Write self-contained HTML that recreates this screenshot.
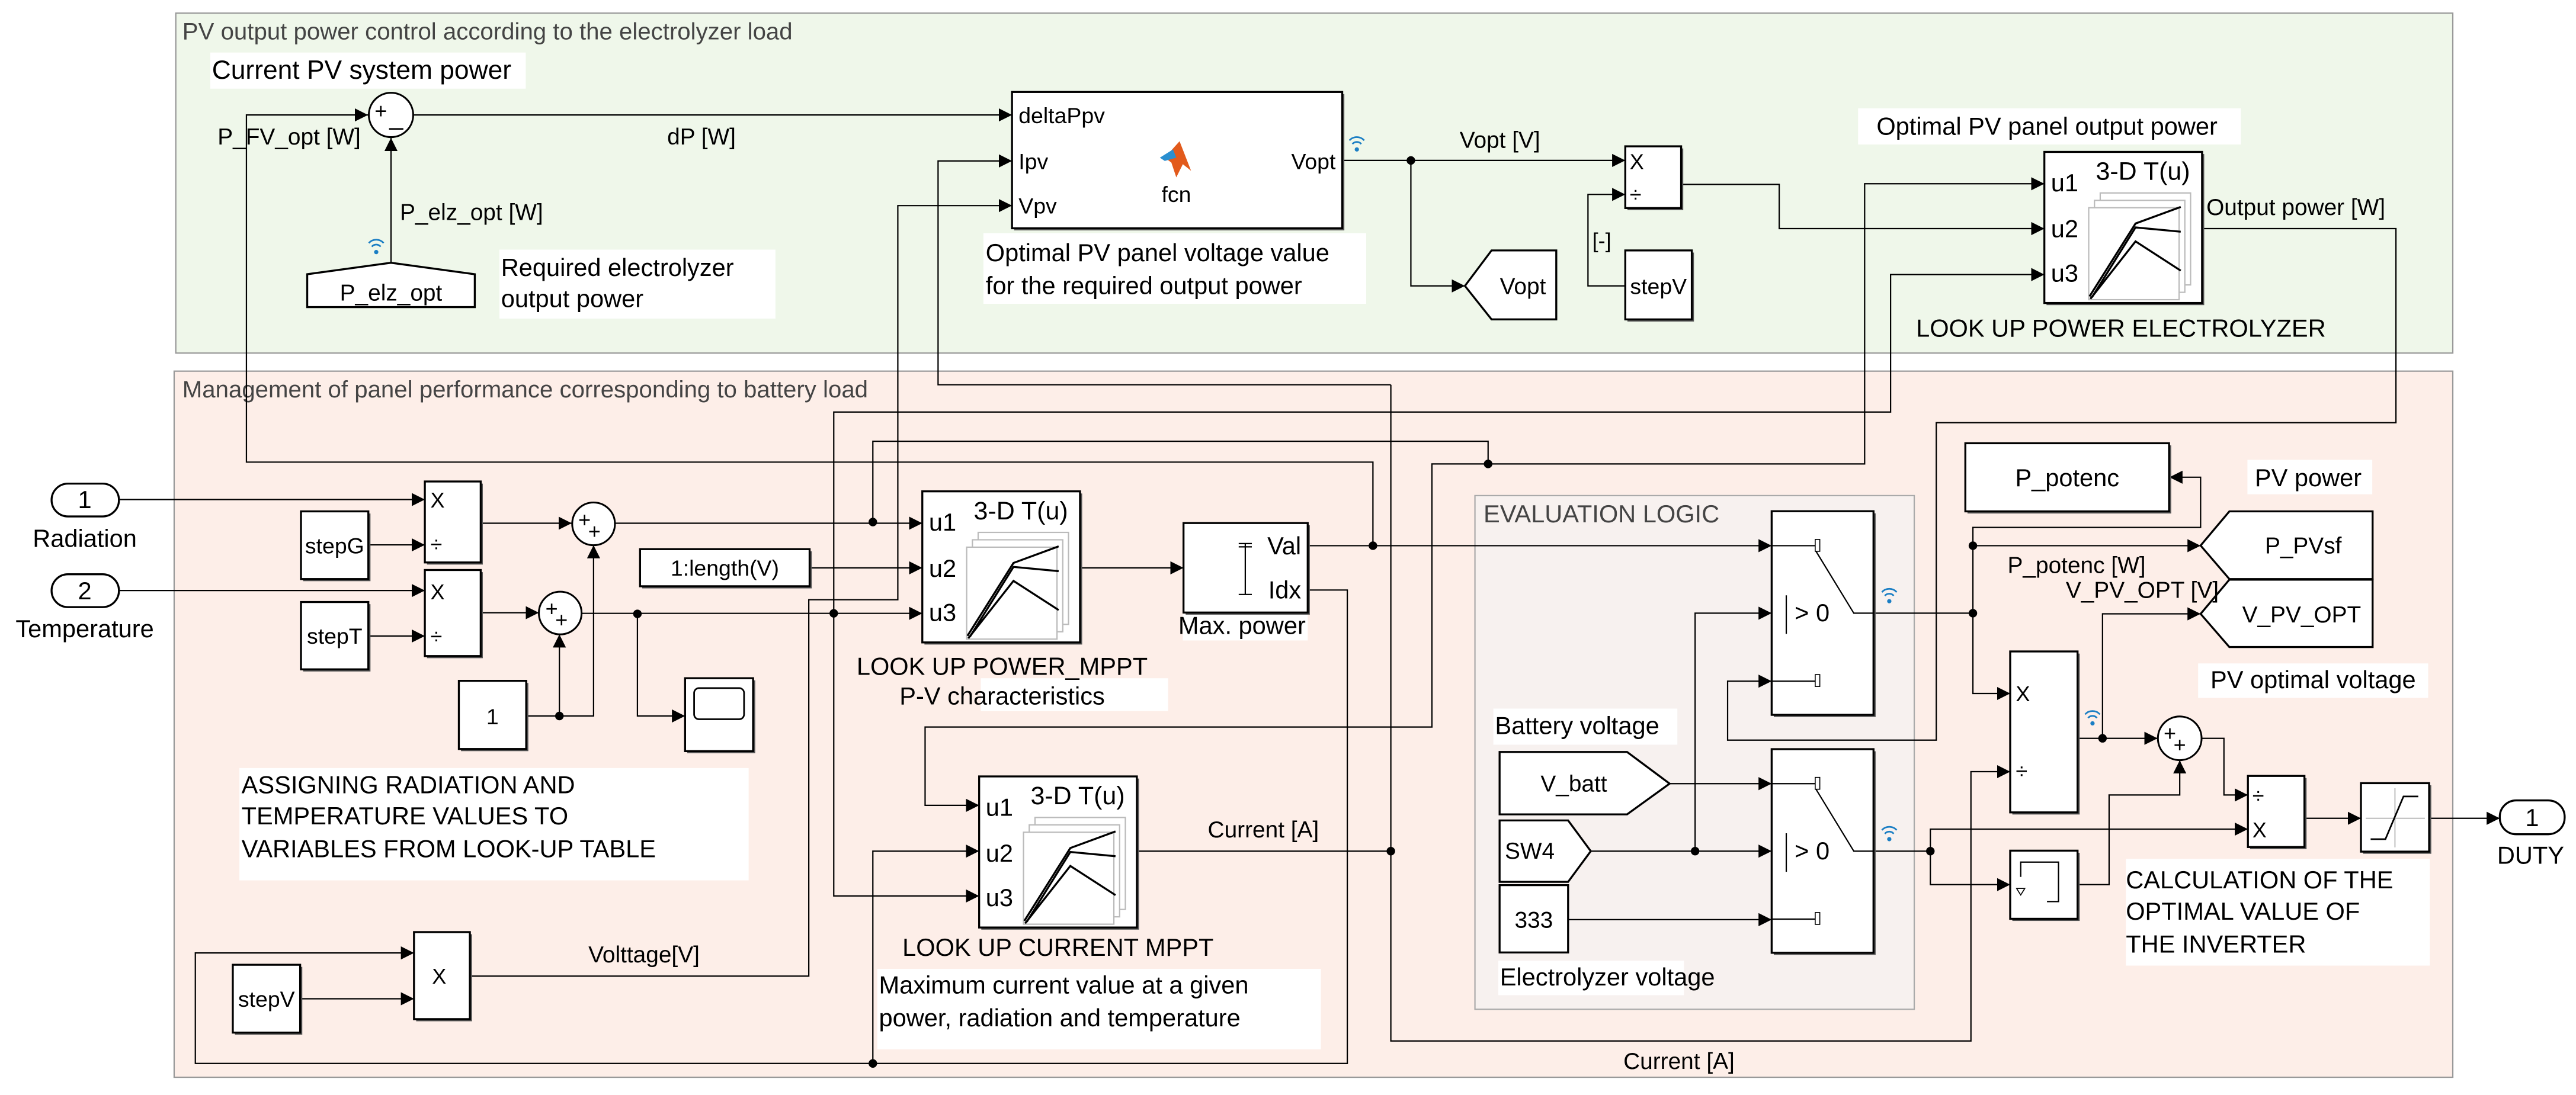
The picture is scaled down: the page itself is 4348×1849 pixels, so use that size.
<!DOCTYPE html>
<html><head><meta charset="utf-8"><style>
html,body{margin:0;padding:0;background:#fff;}
svg{display:block;}
text{font-family:"Liberation Sans",sans-serif;fill:#000;}
</style></head><body>
<svg xmlns="http://www.w3.org/2000/svg" width="4348" height="1849" viewBox="0 0 1568 666.8">
<defs>
<marker id="ar" markerUnits="userSpaceOnUse" markerWidth="9" markerHeight="9" refX="8" refY="4" orient="auto"><path d="M0,0 L8,4 L0,8 Z" fill="#000"/></marker>
<g id="lut">
<rect x="1.3" y="1.3" width="96" height="92" fill="#555"/>
<rect x="0" y="0" width="96" height="92" fill="#fff" stroke="#000" stroke-width="1.2"/>
<text x="60" y="17" font-size="15.5" text-anchor="middle">3-D T(u)</text>
<text x="4" y="24" font-size="15">u1</text>
<text x="4" y="52" font-size="15">u2</text>
<text x="4" y="79" font-size="15">u3</text>
<rect x="34" y="25" width="55" height="56" fill="#fff" stroke="#bbb" stroke-width="0.8"/>
<rect x="30.5" y="29.5" width="55" height="56" fill="#fff" stroke="#bbb" stroke-width="0.8"/>
<rect x="27" y="34" width="55" height="56" fill="#fff" stroke="#bbb" stroke-width="0.8"/>
<polyline points="27.5,88 55.5,43.6 83,33.5" fill="none" stroke="#000" stroke-width="1.2"/>
<polyline points="29,88.5 55.5,46 83,48.6" fill="none" stroke="#000" stroke-width="1.2"/>
<polyline points="28,89.5 55.5,54.5 83,72.3" fill="none" stroke="#000" stroke-width="1.2"/>
</g>
<g id="wl" fill="none" stroke="#1a7ec4" stroke-width="1">
<path d="M-4.5,-3 A6,6 0 0 1 4.5,-3"/><path d="M-2.7,-0.8 A3.5,3.5 0 0 1 2.7,-0.8"/><circle cx="0" cy="2.5" r="1.3" fill="#1a7ec4" stroke="none"/>
</g>
<g id="sw">
<rect x="1.3" y="1.3" width="62" height="124" fill="#555"/>
<rect x="0" y="0" width="62" height="124" fill="#fff" stroke="#000" stroke-width="1.2"/>
<path d="M0,21 H27 M0,103.5 H27" stroke="#000" stroke-width="0.8" fill="none"/>
<rect x="26.5" y="17.2" width="2.8" height="7.2" fill="#fff" stroke="#000" stroke-width="0.6"/>
<rect x="26.5" y="99.5" width="2.8" height="7.2" fill="#fff" stroke="#000" stroke-width="0.6"/>
<path d="M27,24.4 L50,62.1 H62" stroke="#000" stroke-width="0.8" fill="none"/>
<path d="M8.9,51.2 V74.7" stroke="#000" stroke-width="0.8"/>
<text x="14" y="67" font-size="15">&gt; 0</text>
</g>
</defs>

<!-- groups -->
<rect x="107" y="8" width="1386" height="207" fill="#eff7ea" stroke="#999" stroke-width="0.8"/>
<text x="111" y="24" font-size="14.5" style="fill:#444">PV output power control according to the electrolyzer load</text>
<rect x="106" y="226" width="1387" height="430" fill="#fdeee8" stroke="#999" stroke-width="0.8"/>
<text x="111" y="242" font-size="14.5" style="fill:#444">Management of panel performance corresponding to battery load</text>
<rect x="897.8" y="301.8" width="267.4" height="312.8" fill="#f7f1ef" stroke="#aaa" stroke-width="0.8"/>
<text x="903" y="318" font-size="15" style="fill:#444">EVALUATION LOGIC</text>

<!-- white label backgrounds -->
<g fill="#fff">
<rect x="128" y="32" width="192" height="22"/>
<rect x="304" y="152" width="168" height="42"/>
<rect x="598.6" y="142" width="233" height="43"/>
<rect x="1131" y="66" width="233" height="22"/>
<rect x="145.7" y="467.7" width="310" height="68.4"/>
<rect x="534" y="590" width="270" height="49"/>
<rect x="909" y="431.5" width="112" height="22"/>
<rect x="912" y="585" width="113" height="21"/>
<rect x="1294" y="523" width="185" height="65"/>
<rect x="1368" y="280" width="76" height="21"/>
<rect x="1338" y="404" width="140" height="21"/>
<rect x="597" y="413" width="114" height="20"/>
<rect x="720" y="374" width="76" height="16"/>
</g>

<!-- wires -->
<g fill="none" stroke="#000" stroke-width="0.8">
<path d="M835.7,332.3 V281.4 H150 V70 H224" marker-end="url(#ar)"/>
<path d="M238,160 V84" marker-end="url(#ar)"/>
<path d="M252,70 H616" marker-end="url(#ar)"/>
<path d="M692.5,518.3 H846.6"/>
<path d="M846.6,234.3 V633.9 H1199.7 V469.9 H1223.6" marker-end="url(#ar)"/>
<path d="M846.6,234.3 H571 V98 H616" marker-end="url(#ar)"/>
<path d="M285.9,594.4 H492.3 V365.2 H546.5 V125.2 H616" marker-end="url(#ar)"/>
<path d="M817,97.7 H989.3" marker-end="url(#ar)"/>
<path d="M858.8,97.7 V174.1 H891.7" marker-end="url(#ar)"/>
<path d="M989.3,174.1 H966.6 V118.4 H989.3" marker-end="url(#ar)"/>
<path d="M1023.2,112.3 H1083 V139.2 H1244.4" marker-end="url(#ar)"/>
<path d="M905.8,282.5 H1135 V111.9 H1244.4" marker-end="url(#ar)"/>
<path d="M531.3,317.9 V268.7 H905.8 V282.5"/>
<path d="M905.8,282.5 H871.6 V442.7 H563.1 V490.4 H596" marker-end="url(#ar)"/>
<path d="M507.5,373.5 V250.9 H1150.8 V167.2 H1244.4" marker-end="url(#ar)"/>
<path d="M507.5,373.5 V545.6 H596" marker-end="url(#ar)"/>
<path d="M1340.5,139.2 H1458.4 V257.4 H1178.6 V450.7 H1051.6 V414.8 H1078.4" marker-end="url(#ar)"/>
<path d="M72.4,304.2 H258.6" marker-end="url(#ar)"/>
<path d="M224.2,331.8 H258.6" marker-end="url(#ar)"/>
<path d="M292.5,318.6 H348" marker-end="url(#ar)"/>
<path d="M374.3,318.6 H561.4" marker-end="url(#ar)"/>
<path d="M72.4,359.6 H258.6" marker-end="url(#ar)"/>
<path d="M224.2,387.3 H258.6" marker-end="url(#ar)"/>
<path d="M292.5,373.1 H328" marker-end="url(#ar)"/>
<path d="M354,373.5 H561.4" marker-end="url(#ar)"/>
<path d="M388,373.8 V436 H417" marker-end="url(#ar)"/>
<path d="M320.3,436 H361.3 V332" marker-end="url(#ar)"/>
<path d="M340.5,436 V386.3" marker-end="url(#ar)"/>
<path d="M492.8,345.8 H561.4" marker-end="url(#ar)"/>
<path d="M658,345.8 H720.4" marker-end="url(#ar)"/>
<path d="M796,332.3 H1078.4" marker-end="url(#ar)"/>
<path d="M796,359.3 H820.1 V647.6 H118.9 V580.3 H252" marker-end="url(#ar)"/>
<path d="M182.7,608.2 H252" marker-end="url(#ar)"/>
<path d="M531.3,647.6 V518.3 H596" marker-end="url(#ar)"/>
<path d="M1016.3,477.2 H1078.4" marker-end="url(#ar)"/>
<path d="M968.3,518.3 H1078.4" marker-end="url(#ar)"/>
<path d="M1031.8,518.3 V373.4 H1078.4" marker-end="url(#ar)"/>
<path d="M954.5,560 H1078.4" marker-end="url(#ar)"/>
<path d="M1140.5,373.4 H1200.9"/>
<path d="M1200.9,332.3 V422.3 H1223.6" marker-end="url(#ar)"/>
<path d="M1200.9,332.3 H1339.5" marker-end="url(#ar)"/>
<path d="M1200.9,332.3 V321.2 H1339.5 V290.6 H1320.5" marker-end="url(#ar)"/>
<path d="M1279.8,449.6 V373.8 H1339.5" marker-end="url(#ar)"/>
<path d="M1264.6,449.6 H1313.3" marker-end="url(#ar)"/>
<path d="M1340.3,449.6 H1353.7 V484.1 H1368.3" marker-end="url(#ar)"/>
<path d="M1140.5,518.3 H1175"/>
<path d="M1175,518.3 V504.9 H1368.3" marker-end="url(#ar)"/>
<path d="M1175,518.3 V538.7 H1223.6" marker-end="url(#ar)"/>
<path d="M1264.6,538.7 H1283.8 V484.1 H1326.8 V463" marker-end="url(#ar)"/>
<path d="M1402.7,498.3 H1437.1" marker-end="url(#ar)"/>
<path d="M1478.6,498.3 H1521.6" marker-end="url(#ar)"/>
</g>
<g fill="#000">
<circle cx="835.7" cy="332.3" r="2.6"/><circle cx="905.8" cy="282.5" r="2.6"/><circle cx="531.3" cy="317.9" r="2.6"/>
<circle cx="507.5" cy="373.5" r="2.6"/><circle cx="846.6" cy="518.3" r="2.6"/><circle cx="531.3" cy="647.6" r="2.6"/>
<circle cx="858.8" cy="97.7" r="2.6"/><circle cx="340.5" cy="436" r="2.6"/><circle cx="388" cy="373.8" r="2.6"/>
<circle cx="1031.8" cy="518.3" r="2.6"/><circle cx="1200.9" cy="373.4" r="2.6"/><circle cx="1200.9" cy="332.3" r="2.6"/>
<circle cx="1175" cy="518.3" r="2.6"/><circle cx="1279.8" cy="449.6" r="2.6"/>
</g>

<!-- blocks top -->
<circle cx="238" cy="70" r="13.5" fill="#fff" stroke="#000" stroke-width="1.1"/>
<text x="228" y="72" font-size="13">+</text><text x="237" y="76" font-size="15">_</text>
<path d="M187,167 L238,160 L289,167 V187 H187 Z" fill="#fff" stroke="#000" stroke-width="1.2"/>
<text x="238" y="183" font-size="14" text-anchor="middle">P_elz_opt</text>
<rect x="617.3" y="57.3" width="201" height="83" fill="#555"/>
<rect x="616" y="56" width="201" height="83" fill="#fff" stroke="#000" stroke-width="1.2"/>
<text x="620" y="75" font-size="13.5">deltaPpv</text>
<text x="620" y="103" font-size="13.5">Ipv</text>
<text x="620" y="130" font-size="13.5">Vpv</text>
<text x="813" y="103" font-size="13.5" text-anchor="end">Vopt</text>
<text x="716" y="123" font-size="13.5" text-anchor="middle">fcn</text>
<path d="M709,96 L718,86 L725,104 L720,100 L716,108 L713,99 Z" fill="#e25a1c"/>
<path d="M706,96 L714,91 L716,96 L709,98 Z" fill="#2a8fd0"/>
<rect x="990.6" y="90.4" width="34" height="37.6" fill="#555"/>
<rect x="989.3" y="89.1" width="34" height="37.6" fill="#fff" stroke="#000" stroke-width="1.2"/>
<text x="992" y="103" font-size="13">X</text><text x="992" y="123" font-size="13">÷</text>
<path d="M891.7,174.1 L907.9,152.5 H947.3 V194.5 H907.9 Z" fill="#fff" stroke="#000" stroke-width="1.2"/>
<text x="927" y="179" font-size="14" text-anchor="middle">Vopt</text>
<rect x="990.6" y="153.8" width="40.5" height="42" fill="#555"/>
<rect x="989.3" y="152.5" width="40.5" height="42" fill="#fff" stroke="#000" stroke-width="1.2"/>
<text x="1009.5" y="179" font-size="13.5" text-anchor="middle">stepV</text>
<text x="975" y="151" font-size="13" text-anchor="middle">[-]</text>
<use href="#lut" x="1244.4" y="92.5"/>

<!-- blocks left -->
<rect x="31.4" y="294.5" width="41" height="20" rx="10" fill="#fff" stroke="#000" stroke-width="1.2"/>
<text x="51.6" y="309.5" font-size="15" text-anchor="middle">1</text>
<rect x="31.4" y="349.7" width="41" height="20" rx="10" fill="#fff" stroke="#000" stroke-width="1.2"/>
<text x="51.6" y="365" font-size="15" text-anchor="middle">2</text>
<text x="51.6" y="333" font-size="15" text-anchor="middle">Radiation</text>
<text x="51.6" y="388" font-size="15" text-anchor="middle">Temperature</text>
<rect x="259.9" y="294.5" width="34" height="49.3" fill="#555"/>
<rect x="258.6" y="293.2" width="34" height="49.3" fill="#fff" stroke="#000" stroke-width="1.2"/>
<text x="262" y="309" font-size="13">X</text><text x="262" y="336" font-size="13">÷</text>
<rect x="184.5" y="312.7" width="41" height="41.2" fill="#555"/>
<rect x="183.2" y="311.4" width="41" height="41.2" fill="#fff" stroke="#000" stroke-width="1.2"/>
<text x="203.7" y="337" font-size="13.5" text-anchor="middle">stepG</text>
<rect x="259.9" y="348.4" width="34" height="52.4" fill="#555"/>
<rect x="258.6" y="347.1" width="34" height="52.4" fill="#fff" stroke="#000" stroke-width="1.2"/>
<text x="262" y="365" font-size="13">X</text><text x="262" y="392" font-size="13">÷</text>
<rect x="184.5" y="367.9" width="41" height="41" fill="#555"/>
<rect x="183.2" y="366.6" width="41" height="41" fill="#fff" stroke="#000" stroke-width="1.2"/>
<text x="203.7" y="392" font-size="13.5" text-anchor="middle">stepT</text>
<circle cx="361.3" cy="319" r="13" fill="#fff" stroke="#000" stroke-width="1.1"/>
<text x="352" y="321" font-size="13">+</text><text x="358" y="328" font-size="13">+</text>
<circle cx="341" cy="373.3" r="13" fill="#fff" stroke="#000" stroke-width="1.1"/>
<text x="332" y="375" font-size="13">+</text><text x="338" y="382" font-size="13">+</text>
<rect x="280.6" y="415.9" width="41" height="41.5" fill="#555"/>
<rect x="279.3" y="414.6" width="41" height="41.5" fill="#fff" stroke="#000" stroke-width="1.2"/>
<text x="299.8" y="441" font-size="13.5" text-anchor="middle">1</text>
<rect x="418.3" y="414.3" width="41.4" height="44.4" fill="#555"/>
<rect x="417" y="413" width="41.4" height="44.4" fill="#fff" stroke="#000" stroke-width="1.2"/>
<rect x="422.5" y="419" width="30.4" height="19" rx="3" fill="#fff" stroke="#000" stroke-width="1"/>
<rect x="390.9" y="335.7" width="103.2" height="22.6" fill="#555"/>
<rect x="389.6" y="334.4" width="103.2" height="22.6" fill="#fff" stroke="#000" stroke-width="1.2"/>
<text x="441.2" y="350.5" font-size="13.5" text-anchor="middle">1:length(V)</text>
<rect x="253.3" y="568.9" width="34" height="53" fill="#555"/>
<rect x="252" y="567.6" width="34" height="53" fill="#fff" stroke="#000" stroke-width="1.2"/>
<text x="263" y="599" font-size="13">X</text>
<rect x="143" y="588.8" width="41" height="41.3" fill="#555"/>
<rect x="141.7" y="587.5" width="41" height="41.3" fill="#fff" stroke="#000" stroke-width="1.2"/>
<text x="162.2" y="613" font-size="13.5" text-anchor="middle">stepV</text>

<use href="#lut" x="561.4" y="299.2"/>
<use href="#lut" x="596" y="472.8"/>
<rect x="721.7" y="319.8" width="75.6" height="54.5" fill="#555"/>
<rect x="720.4" y="318.5" width="75.6" height="54.5" fill="#fff" stroke="#000" stroke-width="1.2"/>
<path d="M758,331 V362 M754,331 H762 M754,333 H762 M754,362 H762" stroke="#000" stroke-width="0.8"/>
<text x="792" y="337.5" font-size="15" text-anchor="end">Val</text>
<text x="792" y="364.5" font-size="15" text-anchor="end">Idx</text>

<!-- evaluation logic -->
<use href="#sw" x="1078.4" y="311.3"/>
<use href="#sw" x="1078.4" y="456.2"/>
<path d="M912.8,457.9 H990.4 L1016.3,477.2 L990.4,495.9 H912.8 Z" fill="#fff" stroke="#000" stroke-width="1.2"/>
<text x="958" y="482" font-size="14" text-anchor="middle">V_batt</text>
<path d="M912.8,499.6 H954.5 L968.3,518.3 L954.5,537 H912.8 Z" fill="#fff" stroke="#000" stroke-width="1.2"/>
<text x="916" y="523" font-size="14">SW4</text>
<rect x="912.8" y="539" width="41.7" height="41" fill="#fff" stroke="#000" stroke-width="1.2"/>
<text x="933.6" y="565" font-size="14" text-anchor="middle">333</text>

<!-- right blocks -->
<rect x="1197.6" y="271.2" width="124" height="41.5" fill="#555"/>
<rect x="1196.3" y="269.9" width="124" height="41.5" fill="#fff" stroke="#000" stroke-width="1.2"/>
<text x="1258.3" y="296" font-size="15" text-anchor="middle">P_potenc</text>
<path d="M1339.5,332.2 L1357,311.4 H1444.2 V352.6 H1357 Z" fill="#fff" stroke="#000" stroke-width="1.2"/>
<text x="1402" y="337" font-size="14" text-anchor="middle">P_PVsf</text>
<path d="M1339.5,373.8 L1357,353 H1444.2 V394 H1357 Z" fill="#fff" stroke="#000" stroke-width="1.2"/>
<text x="1401" y="379" font-size="14" text-anchor="middle">V_PV_OPT</text>
<rect x="1224.9" y="398" width="41" height="98" fill="#555"/>
<rect x="1223.6" y="396.7" width="41" height="98" fill="#fff" stroke="#000" stroke-width="1.2"/>
<text x="1227" y="427" font-size="13">X</text><text x="1227" y="474" font-size="13">÷</text>
<circle cx="1326.8" cy="449.6" r="13.3" fill="#fff" stroke="#000" stroke-width="1.1"/>
<text x="1317" y="451" font-size="13">+</text><text x="1323" y="458" font-size="13">+</text>
<rect x="1369.6" y="473.8" width="34.4" height="43.3" fill="#555"/>
<rect x="1368.3" y="472.5" width="34.4" height="43.3" fill="#fff" stroke="#000" stroke-width="1.2"/>
<text x="1371" y="489" font-size="13">÷</text><text x="1371" y="510" font-size="13">X</text>
<rect x="1438.4" y="478.2" width="41.5" height="41.7" fill="#555"/>
<rect x="1437.1" y="476.9" width="41.5" height="41.7" fill="#fff" stroke="#000" stroke-width="1.2"/>
<path d="M1440,498.3 H1476 M1457.8,480 V516" stroke="#bbb" stroke-width="0.7"/>
<path d="M1443,511 H1452 L1463,485 H1472" stroke="#000" stroke-width="1" fill="none"/>
<rect x="1224.9" y="519.3" width="41" height="41.5" fill="#555"/>
<rect x="1223.6" y="518" width="41" height="41.5" fill="#fff" stroke="#000" stroke-width="1.2"/>
<path d="M1230,534 V525 H1253 V549 H1246" stroke="#000" stroke-width="0.8" fill="none"/>
<path d="M1227.5,541 H1232.5 L1230,545 Z" fill="none" stroke="#000" stroke-width="0.6"/>
<rect x="1521.6" y="487.4" width="39.5" height="20.6" rx="10" fill="#fff" stroke="#000" stroke-width="1.2"/>
<text x="1541.3" y="503" font-size="15" text-anchor="middle">1</text>
<text x="1540.4" y="526" font-size="15" text-anchor="middle">DUTY</text>

<!-- wireless icons -->
<use href="#wl" x="229" y="151"/><use href="#wl" x="825.9" y="88.5"/>
<use href="#wl" x="1150" y="363.6"/><use href="#wl" x="1150" y="508.5"/><use href="#wl" x="1273.7" y="438"/>

<!-- labels -->
<g font-size="15">
<text x="129" y="48" font-size="16">Current PV system power</text>
<text x="176" y="88" text-anchor="middle" font-size="14">P_FV_opt [W]</text>
<text x="427" y="88" text-anchor="middle" font-size="14">dP [W]</text>
<text x="287" y="134" text-anchor="middle" font-size="14">P_elz_opt [W]</text>
<text x="305" y="168">Required electrolyzer</text>
<text x="305" y="187">output power</text>
<text x="600" y="159">Optimal PV panel voltage value</text>
<text x="600" y="179">for the required output power</text>
<text x="913" y="90" text-anchor="middle" font-size="14">Vopt [V]</text>
<text x="1246" y="82" text-anchor="middle">Optimal PV panel output power</text>
<text x="1343" y="131" font-size="14">Output power [W]</text>
<text x="1291" y="205" text-anchor="middle">LOOK UP POWER ELECTROLYZER</text>
<text x="610" y="411" text-anchor="middle">LOOK UP POWER_MPPT</text>
<text x="610" y="429" text-anchor="middle">P-V characteristics</text>
<text x="756" y="386" text-anchor="middle">Max. power</text>
<text x="147" y="483">ASSIGNING RADIATION AND</text>
<text x="147" y="502">TEMPERATURE VALUES TO</text>
<text x="147" y="522">VARIABLES FROM LOOK-UP TABLE</text>
<text x="392" y="586" text-anchor="middle" font-size="14">Volttage[V]</text>
<text x="644" y="582" text-anchor="middle">LOOK UP CURRENT MPPT</text>
<text x="535" y="605">Maximum current value at a given</text>
<text x="535" y="625">power, radiation and temperature</text>
<text x="769" y="510" text-anchor="middle" font-size="14">Current [A]</text>
<text x="1022" y="651" text-anchor="middle" font-size="14">Current [A]</text>
<text x="910" y="447">Battery voltage</text>
<text x="913" y="600">Electrolyzer voltage</text>
<text x="1405" y="296" text-anchor="middle">PV power</text>
<text x="1264" y="349" text-anchor="middle" font-size="14">P_potenc [W]</text>
<text x="1304" y="364" text-anchor="middle" font-size="14">V_PV_OPT [V]</text>
<text x="1408" y="419" text-anchor="middle">PV optimal voltage</text>
<text x="1294" y="541">CALCULATION OF THE</text>
<text x="1294" y="560">OPTIMAL VALUE OF</text>
<text x="1294" y="580">THE INVERTER</text>
</g>
</svg>
</body></html>
